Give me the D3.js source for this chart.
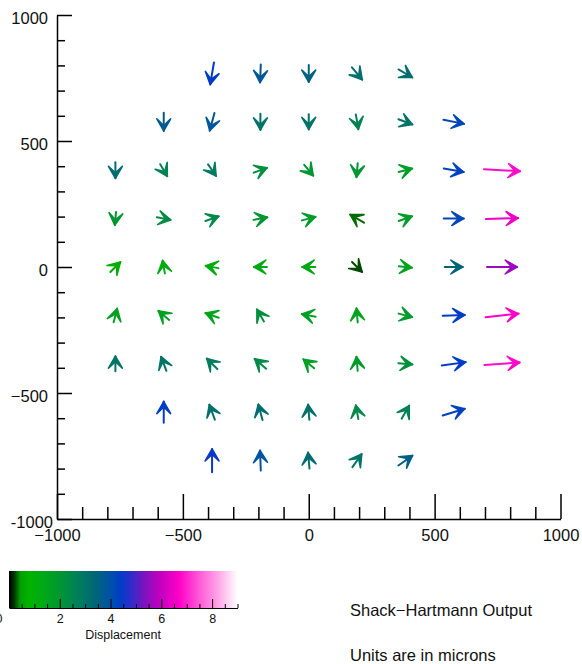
<!DOCTYPE html>
<html><head><meta charset="utf-8">
<script src="https://cdn.jsdelivr.net/npm/d3@7"></script>
<style>
body{margin:0;background:#fff;}
svg{display:block;font-family:"Liberation Sans",Arial,Helvetica,sans-serif;}
</style></head><body>
<svg id="chart" width="582" height="664"></svg>
<script>
// lenslet centres (plot units)
const posX = [
  -384,-192,0,192,384,
  -576,-384,-192,0,192,384,576,
  -768,-576,-384,-192,0,192,384,576,768,
  -768,-576,-384,-192,0,192,384,576,768,
  -768,-576,-384,-192,0,192,384,576,768,
  -768,-576,-384,-192,0,192,384,576,768,
  -768,-576,-384,-192,0,192,384,576,768,
  -576,-384,-192,0,192,384,576,
  -384,-192,0,192,384];
const posY = [
  768,768,768,768,768,
  576,576,576,576,576,576,576,
  384,384,384,384,384,384,384,384,384,
  192,192,192,192,192,192,192,192,192,
  0,0,0,0,0,0,0,0,0,
  -192,-192,-192,-192,-192,-192,-192,-192,-192,
  -384,-384,-384,-384,-384,-384,-384,-384,-384,
  -576,-576,-576,-576,-576,-576,-576,
  -768,-768,-768,-768,-768];
// arrow vector components (plot units)
const u = [
  -15,-3,0,41,55,
  0,-19,0,0,10,56,82,
  0,28,32,53,36,-5,54,79,144,
  -5,55,53,55,54,-55,53,80,128,
  40,-9,-51,-52,-52,40,52,72,120,
  14,-43,-53,-28,-55,-5,54,88,131,
  0,-21,-42,-46,-43,-5,56,95,140,
  0,-22,-17,-5,-10,30,88,
  0,-3,-6,37,56];
const v = [
  -87,-72,-68,-49,-32,
  -72,-70,-64,-60,-59,-21,-16,
  -64,-48,-46,19,-43,-56,14,-14,-8,
  -52,-10,19,10,14,32,19,0,4,
  40,51,9,0,0,-40,-5,0,0,
  54,36,19,48,10,56,-14,3,14,
  60,56,42,39,36,56,-5,13,10,
  84,60,62,60,55,52,27,
  92,80,64,52,39];
// displacement magnitude (microns) -> colour
const disp = [
  4.4,3.8,3.5,3.2,3.2,
  3.7,3.8,3.1,3.0,2.6,3.0,4.2,
  3.2,2.6,2.8,2.2,2.0,2.0,1.7,4.3,6.8,
  2.0,2.3,2.4,2.0,1.8,0.33,1.8,4.2,6.5,
  0.7,1.2,1.2,1.3,1.4,0.25,1.5,3.4,5.6,
  1.6,1.6,1.5,2.2,1.7,1.5,1.8,4.4,6.7,
  3.0,3.0,2.8,2.4,1.7,1.8,2.2,4.4,6.8,
  4.4,3.1,3.2,3.1,2.4,2.6,4.3,
  4.5,3.9,3.2,3.0,3.6];
const axisMajor = [-1000,-500,0,500,1000];
const axisMinor = d3.range(-1000,1001,100).filter(d=>d%500!==0);
const cbMajor = [0,2,4,6,8];
const cbMinor = d3.range(0.5,9.01,0.5).filter(d=>d%2!==0);
const cbStops  = [0,0.2,0.45,0.8,1.3,2.0,2.9,3.45,4.0,4.4,4.9,5.3,5.9,6.7,7.5,8.2,9];
const cbColors = ["#000000","#003300","#00a000","#00b400","#00aa14","#009632","#007864","#006478","#0050aa","#003cc8","#3c28c8","#7814be","#be00be","#ff00c8","#ff5ad7","#ffa0e6","#ffffff"];
const titleLines = ["Shack\u2212Hartmann Output","Units are in microns"];

const svg = d3.select("#chart");
const x = d3.scaleLinear([-1000,1000],[57,560.5]);
const y = d3.scaleLinear([-1000,1000],[519,15]);
const color = d3.scaleLinear(cbStops, cbColors).interpolate(d3.interpolateRgb).clamp(true);

// axes
const fmt = d3.format("d");
const yAx = svg.append("g").attr("transform","translate(57,0)")
  .call(d3.axisLeft(y).tickValues(axisMajor).tickSize(-15).tickSizeOuter(0).tickPadding(9).tickFormat(fmt));
yAx.selectAll("text").attr("dy","0.5em")
  .filter(d=>d===-1000).text("-1000").attr("x",-4);
svg.append("g").attr("transform","translate(57,0)")
  .call(d3.axisLeft(y).tickValues(axisMinor).tickSize(-8).tickFormat(""))
  .call(g=>g.select(".domain").remove());
const xAx = svg.append("g").attr("transform","translate(0,519)")
  .call(d3.axisBottom(x).tickValues(axisMajor).tickSize(-25).tickSizeOuter(0).tickPadding(10).tickFormat(fmt));
svg.append("g").attr("transform","translate(0,519)")
  .call(d3.axisBottom(x).tickValues(axisMinor).tickSize(-12).tickFormat(""))
  .call(g=>g.select(".domain").remove());
svg.selectAll(".tick line").attr("stroke","#000").attr("stroke-width",1.5);
svg.selectAll(".domain").attr("stroke","#000").attr("stroke-width",1.5);
svg.selectAll(".tick text").attr("font-size",16.5).attr("fill","#111").attr("font-family","'Liberation Sans',Arial,sans-serif");

// arrows
const headLen = 12, headAng = Math.PI/6, barb = headLen/Math.cos(headAng);
const ag = svg.append("g");
posX.forEach((px,i)=>{
  const x0 = x(px - u[i]/2), y0 = y(posY[i] - v[i]/2);
  const x1 = x(px + u[i]/2), y1 = y(posY[i] + v[i]/2);
  const a = Math.atan2(y1-y0, x1-x0);
  const c = color(disp[i]);
  const b1 = [x1 - barb*Math.cos(a-headAng), y1 - barb*Math.sin(a-headAng)];
  const b2 = [x1 - barb*Math.cos(a+headAng), y1 - barb*Math.sin(a+headAng)];
  const n = [x1 - 0.45*headLen*Math.cos(a), y1 - 0.45*headLen*Math.sin(a)];
  ag.append("line").attr("x1",x0).attr("y1",y0).attr("x2",x1).attr("y2",y1)
    .attr("stroke",c).attr("stroke-width",2).attr("stroke-linecap","round");
  ag.append("path").attr("d",`M${b1}L${x1},${y1}L${b2}L${n}Z`)
    .attr("fill",c).attr("stroke",c).attr("stroke-width",1.6).attr("stroke-linejoin","round");
});

// colorbar
const cx = d3.scaleLinear([0,9],[9,237.5]);
const defs = svg.append("defs");
const grad = defs.append("linearGradient").attr("id","cb").attr("x1","0%").attr("x2","100%");
d3.range(0,1.0001,0.01).forEach(t=>grad.append("stop").attr("offset",(t*100)+"%").attr("stop-color",color(t*9)));
svg.append("rect").attr("x",cx(0)).attr("y",571).attr("width",cx(9)-cx(0)).attr("height",37).attr("fill","url(#cb)");
const cAx = svg.append("g").attr("transform","translate(0,608)")
  .call(d3.axisBottom(cx).tickValues(cbMajor).tickSize(-9).tickSizeOuter(0).tickPadding(6));
svg.append("g").attr("transform","translate(0,608)")
  .call(d3.axisBottom(cx).tickValues(cbMinor).tickSize(-4).tickFormat(""))
  .call(g=>g.select(".domain").remove());
cAx.selectAll("text").attr("font-size",12.5).attr("fill","#111")
  .filter(d=>d===0).attr("x",-10.5);
svg.selectAll("line").filter(function(){return this.parentNode.classList.contains("tick");}).attr("stroke","#000");
svg.append("text").attr("x",123).attr("y",639).attr("text-anchor","middle")
  .attr("font-size",12.5).attr("fill","#111").text("Displacement");

// titles
svg.selectAll(".title").data(titleLines).join("text").attr("class","title")
  .attr("x",350).attr("y",(d,i)=>616+i*45).attr("font-size",16.5).attr("fill","#111").text(d=>d);
</script>
</body></html>
